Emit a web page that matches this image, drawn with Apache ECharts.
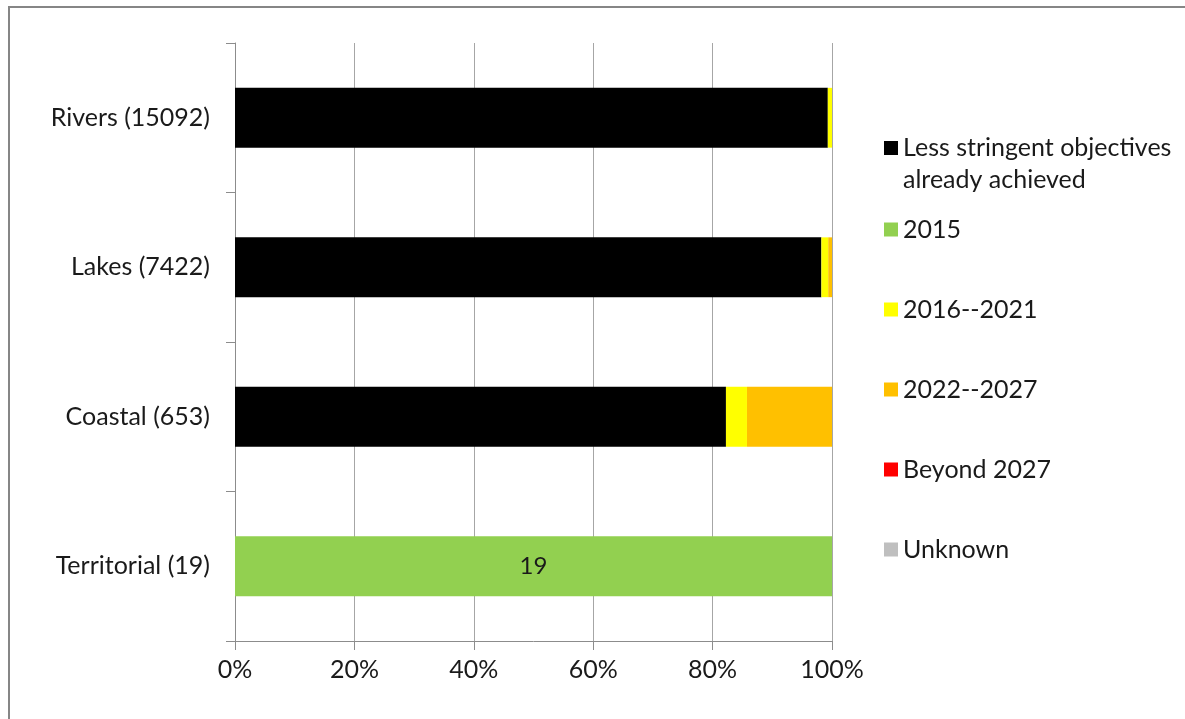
<!DOCTYPE html>
<html>
<head>
<meta charset="utf-8">
<title>Objectives by water category</title>
<script src="https://cdn.jsdelivr.net/npm/echarts@6/dist/echarts.min.js"></script>
<style>
  html, body { margin: 0; padding: 0; background: #ffffff; }
  #chart { width: 1185px; height: 719px; }
</style>
</head>
<body>
<div id="chart"></div>
<script>
// Water body categories, with the number of water bodies in each
const categories = ['Rivers (15092)', 'Lakes (7422)', 'Coastal (653)', 'Territorial (19)'];
const totals = [15092, 7422, 653, 19];

// Number of water bodies per objective date, in category order
const lessStringent = [14986, 7290, 537, 0];
const y2015 = [0, 0, 0, 19];
const y2016to2021 = [106, 85, 23, 0];
const y2022to2027 = [0, 47, 93, 0];
const beyond2027 = [0, 0, 0, 0];
const unknown = [0, 0, 0, 0];

const xTicks = [0, 20, 40, 60, 80, 100];

const seriesDefs = [
  { name: 'Less stringent objectives already achieved', counts: lessStringent, color: '#000000' },
  { name: '2015', counts: y2015, color: '#92D050', labelled: true },
  { name: '2016--2021', counts: y2016to2021, color: '#FFFF00' },
  { name: '2022--2027', counts: y2022to2027, color: '#FFC000' },
  { name: 'Beyond 2027', counts: beyond2027, color: '#FF0000' },
  { name: 'Unknown', counts: unknown, color: '#BFBFBF' }
];

const FONT = 'Lato, "Liberation Sans", sans-serif';
const TEXT = '#1a1a1a';
const SIZE = 25;

const series = seriesDefs.map(def => ({
  name: def.name,
  type: 'bar',
  stack: 'share',
  barWidth: '40%',
  itemStyle: { color: def.color },
  emphasis: { disabled: true },
  data: def.counts.map((c, i) => ({ value: c / totals[i] * 100, count: c })),
  label: {
    show: !!def.labelled,
    position: 'inside',
    fontFamily: FONT,
    fontSize: 24,
    color: TEXT,
    formatter: p => (p.data.count > 0 ? String(p.data.count) : '')
  }
}));

const chart = echarts.init(document.getElementById('chart'), null, { renderer: 'canvas' });

chart.setOption({
  animation: false,
  backgroundColor: '#ffffff',
  textStyle: { fontFamily: FONT },
  grid: { left: 235, right: 353, top: 43, bottom: 78, containLabel: false },
  xAxis: {
    type: 'value',
    min: xTicks[0],
    max: xTicks[xTicks.length - 1],
    interval: 20,
    axisLine: { show: true, lineStyle: { color: '#8c8c8c', width: 1 } },
    axisTick: { show: true, length: 9, lineStyle: { color: '#8c8c8c' } },
    splitLine: { show: true, lineStyle: { color: '#a6a6a6', width: 1 } },
    axisLabel: {
      margin: 16,
      fontFamily: FONT,
      fontSize: SIZE,
      color: TEXT,
      formatter: v => v + '%'
    }
  },
  yAxis: {
    type: 'category',
    inverse: true,
    data: categories,
    axisLine: { show: true, lineStyle: { color: '#8c8c8c', width: 1 } },
    axisTick: { show: true, length: 9, lineStyle: { color: '#8c8c8c' } },
    axisLabel: {
      margin: 25,
      fontFamily: FONT,
      fontSize: SIZE,
      color: TEXT
    }
  },
  legend: [
    {
      // leading blank line keeps the swatch level with the first text line
      orient: 'vertical',
      left: 879,
      top: 95,
      itemWidth: 14,
      itemHeight: 14,
      selectedMode: false,
      icon: 'rect',
      data: [seriesDefs[0].name],
      formatter: () => ' \nLess stringent objectives\nalready achieved',
      textStyle: { fontFamily: FONT, fontSize: SIZE, color: TEXT, lineHeight: 32 }
    },
    {
      orient: 'vertical',
      left: 879,
      top: 212,
      itemWidth: 14,
      itemHeight: 14,
      itemGap: 55,
      selectedMode: false,
      icon: 'rect',
      data: seriesDefs.slice(1).map(d => d.name),
      textStyle: { fontFamily: FONT, fontSize: SIZE, color: TEXT, lineHeight: 24 }
    }
  ],
  graphic: [
    {
      type: 'rect',
      silent: true,
      shape: { x: 9, y: 7, width: 1250, height: 800 },
      style: { fill: 'none', stroke: '#868686', lineWidth: 2 }
    }
  ],
  series: series
});
</script>
</body>
</html>
